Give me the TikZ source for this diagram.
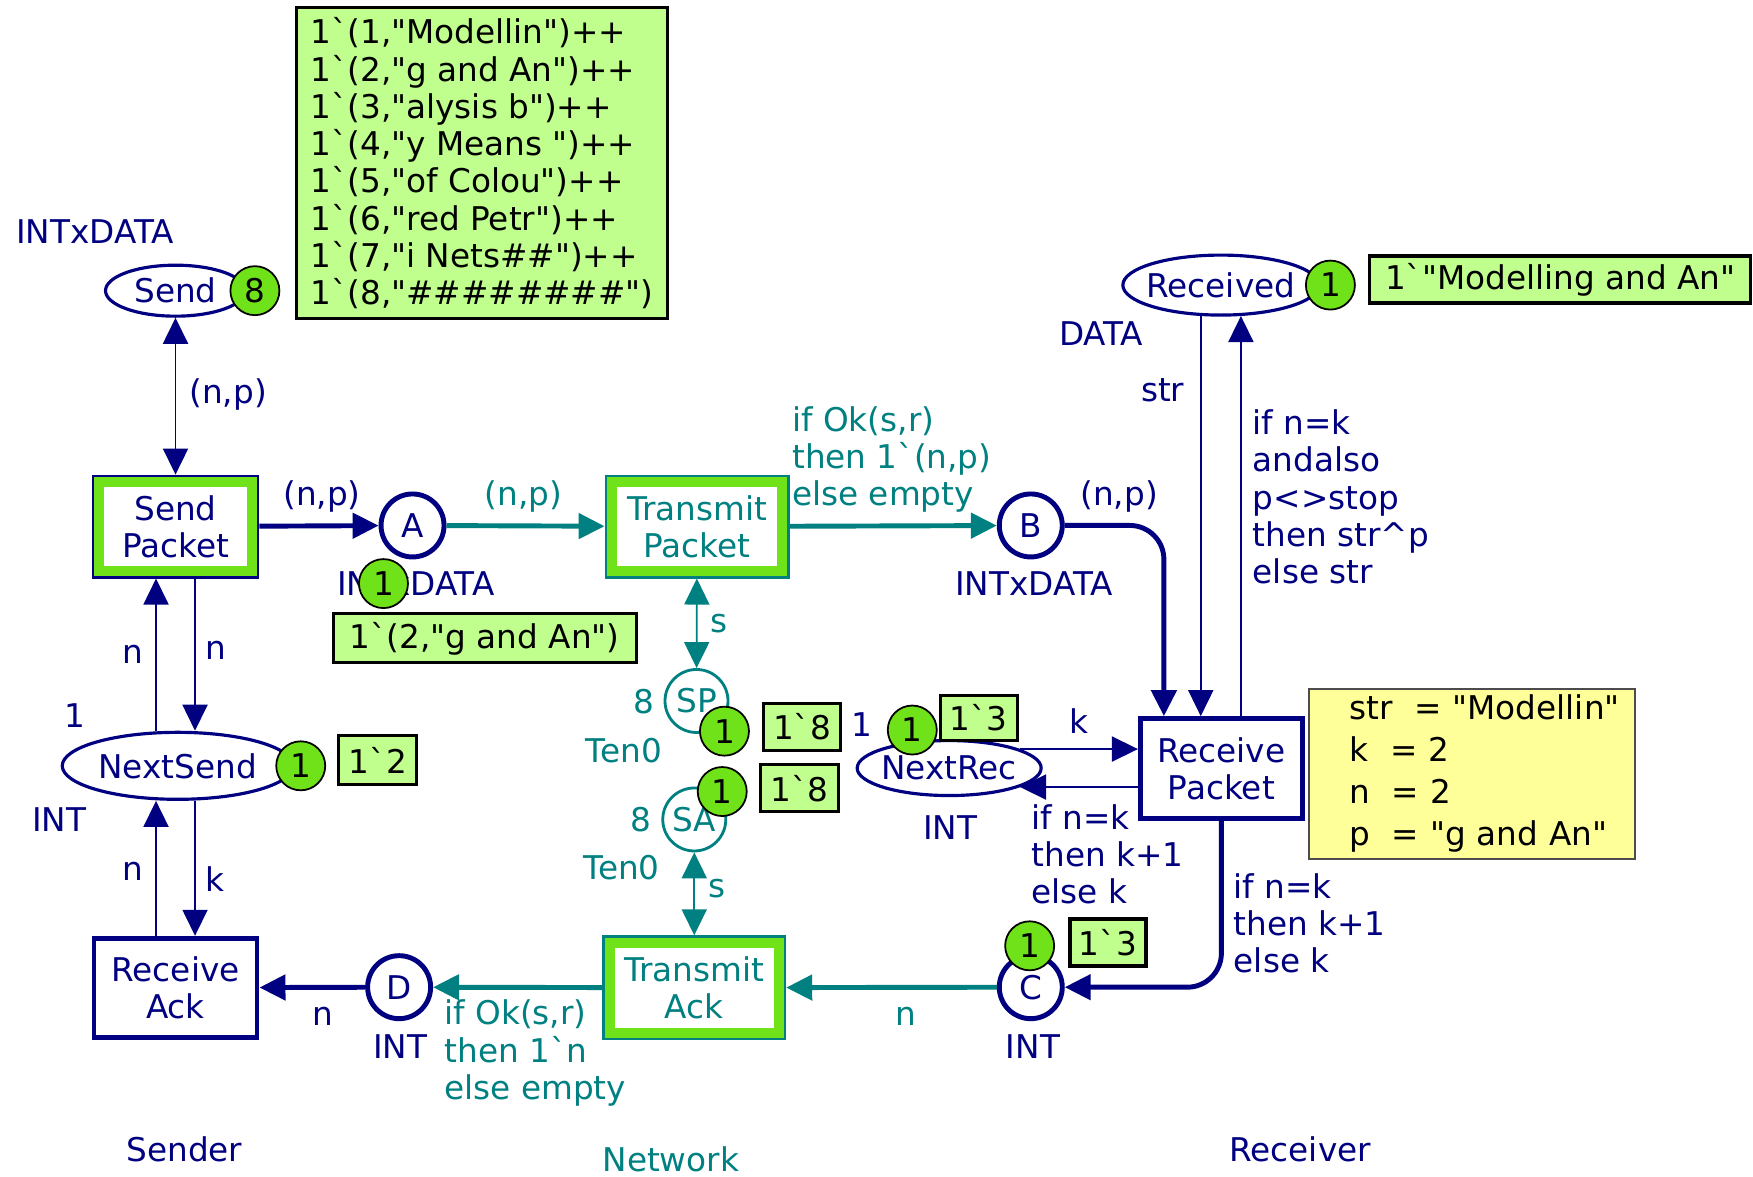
\documentclass[tikz,border=0pt]{standalone}
\usepackage{fontspec}
\setmainfont{DejaVu Sans}
\usetikzlibrary{shapes.geometric,arrows.meta,positioning}

\definecolor{cpnblue}{RGB}{0,0,128}
\definecolor{cpnteal}{RGB}{0,128,128}
\definecolor{tokgreen}{RGB}{112,226,26}
\definecolor{markgreen}{RGB}{192,255,142}
\definecolor{bindyellow}{RGB}{255,255,153}

\newcommand{\bq}{\textasciigrave}
\newcommand{\dq}{\textquotedbl}
\newcommand{\ctext}[1]{\makebox[0pt]{#1}}
\newcommand{\ind}{\hspace*{3.2mm}}

\begin{document}
\begin{tikzpicture}[x=0.1118mm,y=-0.1118mm,
    font=\fontsize{9.3pt}{10.6pt}\selectfont,
    >={Triangle[length=2.6mm,width=2.5mm]},
    every node/.style={inner sep=0pt},
    place/.style={ellipse,draw=cpnblue,line width=0.9pt,fill=white,text=cpnblue},
    port/.style={circle,draw=cpnblue,line width=1.4pt,fill=white,text=cpnblue,minimum size=6.3mm},
    netplace/.style={circle,draw=cpnteal,line width=0.8pt,fill=white,text=cpnteal,minimum size=6.3mm},
    trans/.style={rectangle,draw=cpnblue,line width=1.4pt,fill=white,text=cpnblue,align=center,
                  minimum width=16.3mm,minimum height=9.9mm},
    nettrans/.style={trans,draw=cpnteal,text=cpnteal},
    band/.style={draw=tokgreen,line width=2.8pt},
    token/.style={circle,draw=black,line width=0.5pt,fill=tokgreen,minimum size=4.9mm},
    marking/.style={draw=black,line width=0.9pt,fill=markgreen,align=left},
    binding/.style={draw=black!70,line width=0.6pt,fill=bindyellow,align=left},
    lbl/.style={text=cpnblue,align=left},
    netlbl/.style={text=cpnteal,align=left},
    arc/.style={draw=cpnblue,line width=0.5pt},
    thickarc/.style={arc,line width=1.4pt},
    netarc/.style={arc,draw=cpnteal},
    thicknetarc/.style={netarc,line width=1.4pt}]
\useasboundingbox (0,0) rectangle (1568,1052);

% sender
\node[place,minimum width=14mm,minimum height=5.1mm] (Send) at (157,260) {\ctext{Send}};
\node[trans] (SPk) at (157,471) {Send\\Packet};
\node[place,minimum width=23.1mm,minimum height=6.7mm] (NS) at (159,685) {\ctext{NextSend}};
\node[trans] (RA) at (157,883.5) {Receive\\Ack};
\node[port] (A) at (369,470) {A};
\node[port] (D) at (357,883) {D};

% network
\node[nettrans,minimum width=18mm] (TP) at (623.5,471) {Transmit\\Packet};
\node[nettrans,minimum width=17.9mm,minimum height=10mm] (TA) at (621,883.5) {Transmit\\Ack};
\node[netplace] (SP) at (623,627) {SP};
\node[netplace] (SA) at (621,733) {SA};

% receiver
\node[port] (B) at (922,470) {B};
\node[port] (C) at (922,883) {C};
\node[place,minimum width=19.6mm,minimum height=6mm] (Rcvd) at (1092,255) {\ctext{Received}};
\node[place,minimum width=18.4mm,minimum height=5.5mm] (NR) at (849,687) {\ctext{NextRec}};
\node[trans,minimum width=16.2mm,minimum height=10mm] (RP) at (1092.5,687.5) {Receive\\Packet};

% enabled transitions
\foreach \t in {SPk,TP,TA}
  \draw[band] ([shift={(2.1pt,2.1pt)}]\t.south west) rectangle ([shift={(-2.1pt,-2.1pt)}]\t.north east);

% arcs
\draw[arc,<->] (Send) -- (SPk);
\draw[arc,->] ([xshift=1.95mm]SPk.south) -- ([xshift=1.95mm]SPk.south |- NS.north);
\draw[arc,->] ([xshift=-1.95mm]SPk.south |- NS.north) -- ([xshift=-1.95mm]SPk.south);
\draw[arc,->] ([xshift=1.95mm]RA.north |- NS.south) -- ([xshift=1.95mm]RA.north);
\draw[arc,->] ([xshift=-1.95mm]RA.north) -- ([xshift=-1.95mm]RA.north |- NS.south);
\draw[thickarc,->] (SPk) -- (A);
\draw[thicknetarc,->] (A) -- (TP);
\draw[thicknetarc,->] (TP) -- (B);
\draw[thickarc,->,rounded corners=3.4mm] (B.east) -| ([xshift=-5.75mm]RP.north);
\draw[arc,->] (Rcvd.237) -- (Rcvd.237 |- RP.north);
\draw[arc,->] (Rcvd.303 |- RP.north) -- (Rcvd.303);
\draw[arc,->] (NR.15) -- (NR.15 -| RP.west);
\draw[arc,->] (NR.-15 -| RP.west) -- (NR.-15);
\draw[thickarc,->,rounded corners=3.4mm] (RP.south) |- (C.east);
\draw[thicknetarc,->] (C) -- (TA);
\draw[thicknetarc,->] (TA) -- (D);
\draw[thickarc,->] (D) -- (RA);
\draw[netarc,<->] (TP) -- (SP);
\draw[netarc,<->] (TA) -- (SA);

% inscriptions
\node[lbl] (tySend) at (85,207) {INTxDATA};
\node[lbl] (aSend) at (204,353) {(n,p)};
\node[lbl] (aSPkA) at (288,444) {(n,p)};
\node[netlbl] (aATP) at (468,444) {(n,p)};
\node[netlbl,anchor=west] (aTPB) at (708,411) {if Ok(s,r)\\then 1\bq(n,p)\\else empty};
\node[lbl] (aBRP) at (1001,444) {(n,p)};
\node[lbl] (tyA) at (372,522) {INTxDATA};
\node[lbl] (tyB) at (925,522) {INTxDATA};
\node[lbl] (tyRcvd) at (985,298) {DATA};
\node[lbl] (aRcvdIn) at (1040,349) {str};
\node[lbl,anchor=west] (aRcvdOut) at (1120,444.5) {if n=k\\andalso\\p<>stop\\then str\textasciicircum p\\else str};
\node[lbl] (aNRin) at (965,645) {k};
\node[lbl] (tyNR) at (850,740) {INT};
\node[lbl] (imNR) at (771,648) {1};
\node[lbl,anchor=west] (aNRout) at (922,764) {if n=k\\then k+1\\else k};
\node[lbl,anchor=west] (aRPC) at (1103,826) {if n=k\\then k+1\\else k};
\node[lbl] (tyC) at (924,936) {INT};
\node[netlbl] (aCTA) at (810,909) {n};
\node[netlbl,anchor=west] (aTAD) at (397,942) {if Ok(s,r)\\then 1\bq n\\else empty};
\node[lbl] (tyD) at (358,936) {INT};
\node[lbl] (aDRA) at (289,909) {n};
\node[lbl] (aNSin) at (119,585) {n};
\node[lbl] (aNSout) at (193,582) {n};
\node[lbl] (imNS) at (67,640) {1};
\node[lbl] (tyNS) at (53,733) {INT};
\node[lbl] (aRAout) at (119,779) {n};
\node[lbl] (aRAin) at (192,786) {k};
\node[netlbl] (imSP) at (576,628) {8};
\node[netlbl] (tySP) at (558,671) {Ten0};
\node[netlbl] (aSP) at (643,558) {s};
\node[netlbl] (imSA) at (573,733) {8};
\node[netlbl] (tySA) at (556,776) {Ten0};
\node[netlbl] (aSA) at (641,795) {s};

% tokens
\node[token] (kSend) at (228,260) {8};
\node[token] (kA) at (343,522) {1};
\node[token] (kNS) at (269,685) {1};
\node[token] (kRcvd) at (1190,255) {1};
\node[token] (kNR) at (816,653) {1};
\node[token] (kSP) at (648,654) {1};
\node[token] (kSA) at (646,708) {1};
\node[token] (kC) at (921,846) {1};

% markings
\node[marking,minimum width=37.1mm,minimum height=31.1mm] (mSend) at (431,146)
  {1\bq(1,\dq Modellin\dq)++\\1\bq(2,\dq g and An\dq)++\\1\bq(3,\dq alysis b\dq)++\\
   1\bq(4,\dq y Means\ \dq)++\\1\bq(5,\dq of Colou\dq)++\\1\bq(6,\dq red Petr\dq)++\\
   1\bq(7,\dq i Nets\#\#\dq)++\\1\bq(8,\dq\#\#\#\#\#\#\#\#\dq)};
\node[marking,minimum width=30.3mm,minimum height=4.9mm] (mA) at (433.5,571) {1\bq(2,\dq g and An\dq)};
\node[marking,minimum width=7.8mm,minimum height=4.9mm] (mNS) at (338,680) {1\bq2};
\node[marking,minimum width=38.1mm,minimum height=4.7mm] (mRcvd) at (1395.5,250) {1\bq\dq Modelling and An\dq};
\node[marking,minimum width=7.7mm,minimum height=4.5mm] (mNR) at (875.5,642) {1\bq3};
\node[marking,minimum width=7.7mm,minimum height=4.7mm] (mSP) at (717.5,650) {1\bq8};
\node[marking,minimum width=7.8mm,minimum height=4.7mm] (mSA) at (715,705) {1\bq8};
\node[marking,minimum width=7.6mm,minimum height=4.7mm] (mC) at (991,843) {1\bq3};

% bindings
\node[binding,minimum width=32.6mm,minimum height=17mm,text width=31mm,
      font=\fontsize{9.3pt}{11.9pt}\selectfont] (bRP) at (1317,692)
  {\ind str\ \ = \dq Modellin\dq\\\ind k\ \ = 2\\\ind n\ \ = 2\\\ind p\ \ = \dq g and An\dq};

% pages
\node[lbl] (pgSender) at (165,1028) {Sender};
\node[netlbl] (pgNetwork) at (600,1037) {Network};
\node[lbl] (pgReceiver) at (1163,1028) {Receiver};
\end{tikzpicture}
\end{document}
